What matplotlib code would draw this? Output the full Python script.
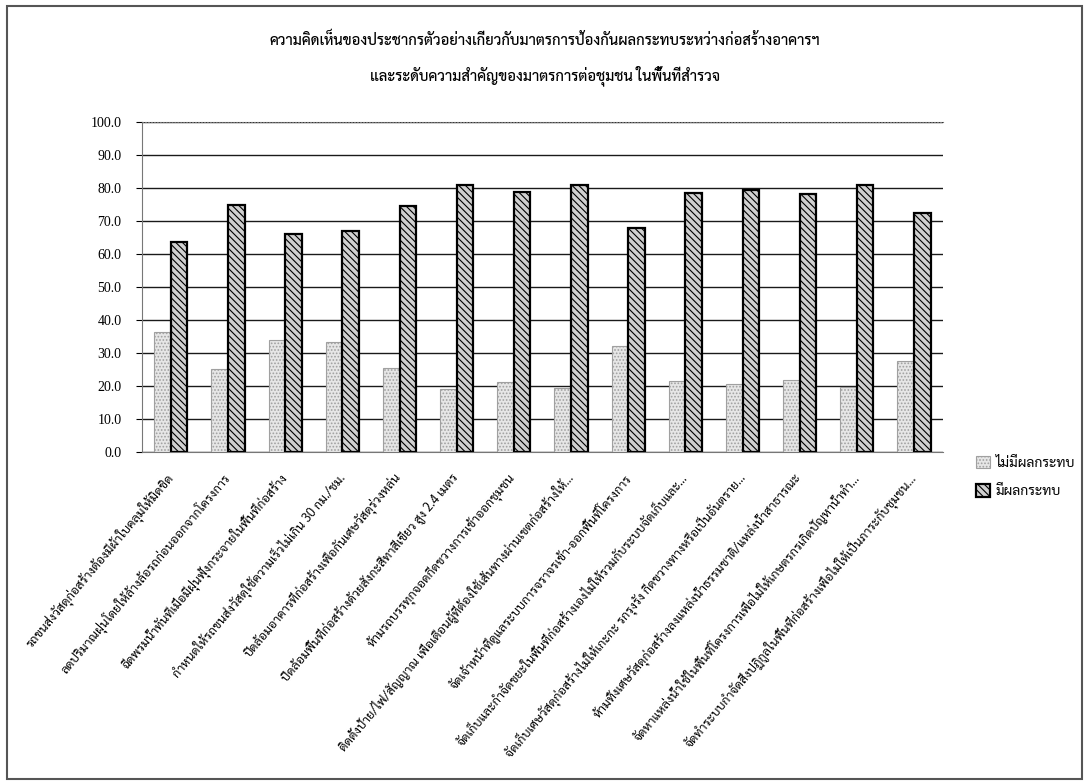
import matplotlib
matplotlib.use("Agg")
import matplotlib.pyplot as plt
import numpy as np
from matplotlib.patches import Rectangle

# ฟอนต์ไทย
thai = ['Sarabun', 'Taviraj', 'Noto Sans Thai', 'DejaVu Sans']
plt.rcParams['font.family'] = thai
plt.rcParams['hatch.linewidth'] = 0.8

# ข้อมูล
categories = [
    "รถขนส่งวัสดุก่อสร้างต้องมีผ้าใบคลุมให้มิดชิด",
    "ลดปริมาณฝุ่นโดยให้ล้างล้อรถก่อนออกจากโครงการ",
    "ฉีดพรมน้ำทันทีเมื่อมีฝุ่นฟุ้งกระจายในพื้นที่ก่อสร้าง",
    "กำหนดให้รถขนส่งวัสดุใช้ความเร็วไม่เกิน 30 กม./ชม.",
    "ปิดล้อมอาคารที่ก่อสร้างเพื่อกันเศษวัสดุร่วงหล่น",
    "ปิดล้อมพื้นที่ก่อสร้างด้วยสังกะสีทาสีเขียว สูง 2.4 เมตร",
    "ห้ามรถบรรทุกจอดกีดขวางการเข้าออกชุมชน",
    "ติดตั้งป้าย/ไฟ/สัญญาณ เพื่อเตือนผู้ที่ต้องใช้เส้นทางผ่านเขตก่อสร้างให้...",
    "จัดเจ้าหน้าที่ดูแลระบบการจราจรเข้า-ออกพื้นที่โครงการ",
    "จัดเก็บและกำจัดขยะในพื้นที่ก่อสร้างเองไม่ให้รวมกับระบบจัดเก็บและ...",
    "จัดเก็บเศษวัสดุก่อสร้างไม่ให้เกะกะ รกรุงรัง กีดขวางทางหรือเป็นอันตราย...",
    "ห้ามทิ้งเศษวัสดุก่อสร้างลงแหล่งน้ำธรรมชาติ/แหล่งน้ำสาธารณะ",
    "จัดหาแหล่งน้ำใช้ในพื้นที่โครงการเพื่อไม่ให้เกษตรกรเกิดปัญหาน้ำทำ...",
    "จัดทำระบบกำจัดสิ่งปฏิกูลในพื้นที่ก่อสร้างเพื่อไม่ให้เป็นภาระกับชุมชน...",
]
no_impact = [36.3, 25.2, 34.0, 33.2, 25.5, 19.0, 21.2, 19.3, 32.0, 21.5, 20.5, 21.8, 19.6, 27.5]
impact = [63.7, 74.8, 66.0, 66.8, 74.5, 81.0, 78.8, 80.8, 68.0, 78.5, 79.5, 78.2, 80.8, 72.5]
yticks = np.arange(0, 101, 10)
legend_labels = ["ไม่มีผลกระทบ", "มีผลกระทบ"]
title1 = "ความคิดเห็นของประชากรตัวอย่างเกี่ยวกับมาตรการป้องกันผลกระทบระหว่างก่อสร้างอาคารฯ"
title2 = "และระดับความสำคัญของมาตรการต่อชุมชน ในพื้นที่สำรวจ"

fig = plt.figure(figsize=(10.86, 7.84), dpi=100)
ax = fig.add_axes([0.131, 0.4235, 0.737, 0.421])

# กรอบรอบรูป
fig.patches.append(Rectangle((0.006, 0.007), 0.99, 0.985, transform=fig.transFigure,
                             fill=False, edgecolor='#555555', lw=1.5))

x = np.arange(len(categories))
w = 0.29
b1 = ax.bar(x - w / 2, no_impact, w, color='#e6e6e6', edgecolor='#a0a0a0', lw=0.8,
            hatch='.....', zorder=3, label=legend_labels[0])
b2 = ax.bar(x + w / 2, impact, w, color='#d0d0d0', edgecolor='black', lw=1.6,
            hatch='\\\\\\\\\\', zorder=3, label=legend_labels[1])

ax.set_xlim(-0.5, len(categories) - 0.5)
ax.set_ylim(0, 100)
ax.set_yticks(yticks)
ax.set_yticklabels(["%.1f" % v for v in yticks], family='Liberation Serif', fontsize=10)
ax.tick_params(axis='y', length=4, width=0.8, pad=11)
ax.tick_params(axis='x', length=0, pad=17)
ax.yaxis.grid(True, color='#1a1a1a', lw=1.0, zorder=0)
ax.spines['top'].set_linestyle(':')
ax.spines['top'].set_color('#777777')
ax.spines['right'].set_visible(False)
ax.spines['left'].set_color('#777777')
ax.spines['bottom'].set_color('#777777')

ax.set_xticks(x)
ax.set_xticklabels(categories, rotation=50, ha='right', va='center',
                   rotation_mode='anchor', fontsize=9.0)

fig.text(0.502, 0.949, title1, ha='center', va='center', fontsize=10.6, weight='medium')
fig.text(0.502, 0.904, title2, ha='center', va='center', fontsize=10.6, weight='medium')

ax.legend(loc='upper left', bbox_to_anchor=(1.035, 0.005), frameon=False,
          fontsize=10, handlelength=1.0, handleheight=1.0, labelspacing=1.05,
          handletextpad=0.4, borderaxespad=0)

fig.savefig("out.png")
